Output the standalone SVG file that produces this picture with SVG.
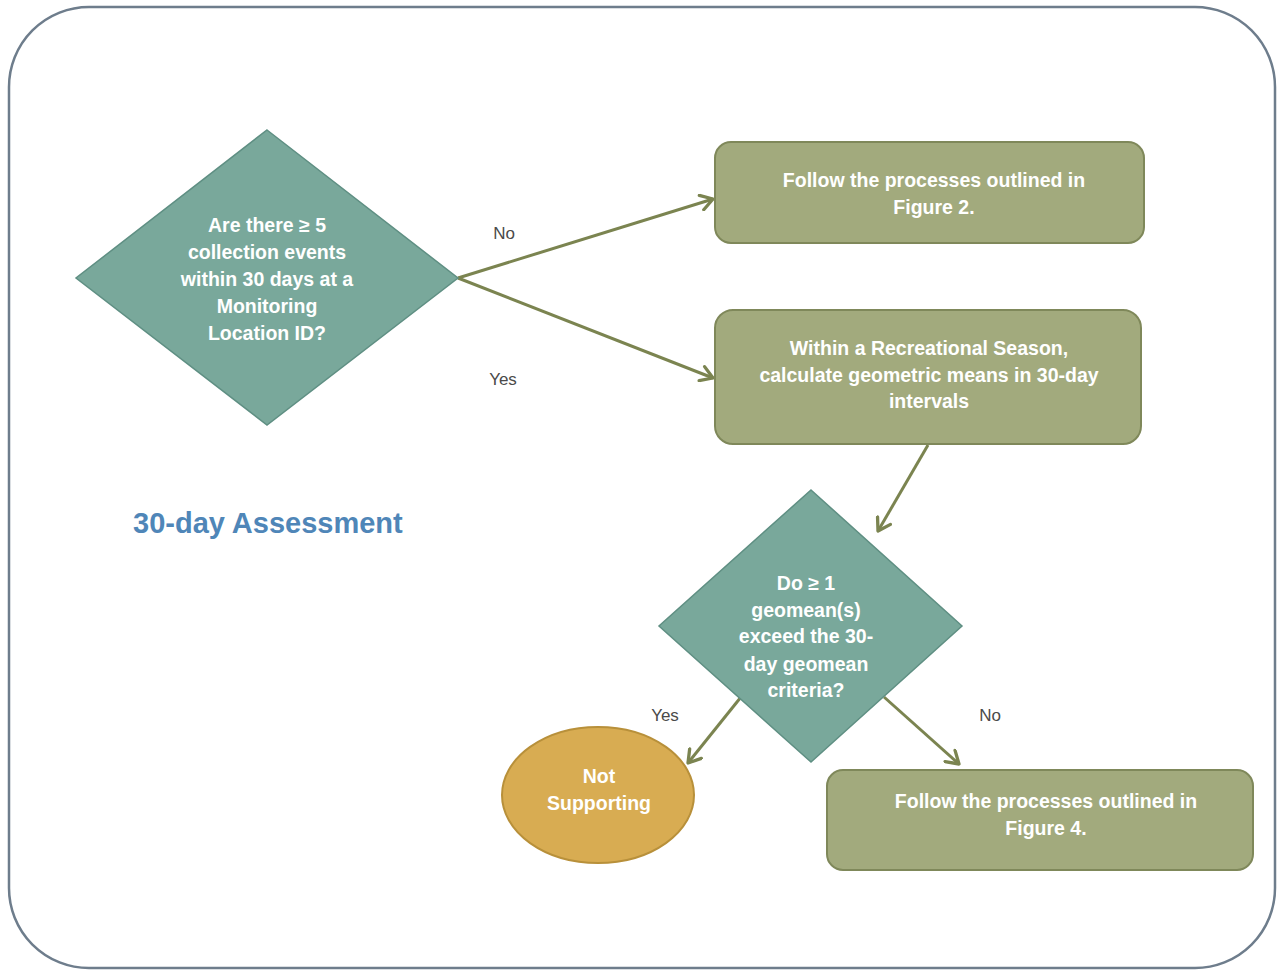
<svg xmlns="http://www.w3.org/2000/svg" width="1278" height="971" viewBox="0 0 1278 971">
  <style>
    .frame { fill: #ffffff; stroke: #6e7d8c; stroke-width: 2.5; }
    .decision { fill: #79a89b; stroke: #5f8f83; stroke-width: 1.5; }
    .process { fill: #a2aa7d; stroke: #7f885a; stroke-width: 2; }
    .terminal { fill: #d8ac52; stroke: #b8903a; stroke-width: 2; }
    .node-text { font-family: "Liberation Sans", Arial, sans-serif; font-weight: bold; font-size: 19.5px; fill: #ffffff; text-anchor: middle; }
    .edge { stroke: #7b8450; stroke-width: 3; fill: none; marker-end: url(#chevron); }
    .edge-label { font-family: "Liberation Sans", Arial, sans-serif; font-size: 17px; fill: #4a4a4a; text-anchor: middle; }
    .title { font-family: "Liberation Sans", Arial, sans-serif; font-weight: bold; font-size: 29px; fill: #4f86b8; }
  </style>
  <defs>
    <marker id="chevron" viewBox="0 0 12 12" refX="10" refY="6" markerWidth="6" markerHeight="6" orient="auto" markerUnits="strokeWidth">
      <path d="M2,1 L10,6 L2,11" fill="none" stroke="#7b8450" stroke-width="2.2" stroke-linecap="round" stroke-linejoin="round"/>
    </marker>
  </defs>

  <rect class="frame" x="9" y="7" width="1266" height="961" rx="80" ry="80"/>

  <text class="title" x="133" y="533">30-day Assessment</text>

  <g id="connectors">
    <line class="edge" x1="458" y1="278" x2="713" y2="199"/>
    <line class="edge" x1="458" y1="278" x2="713" y2="378"/>
    <line class="edge" x1="928" y1="445" x2="878" y2="531"/>
    <line class="edge" x1="741" y1="697" x2="688" y2="763"/>
    <line class="edge" x1="884" y1="697" x2="959" y2="764"/>
    <text class="edge-label" x="504" y="239">No</text>
    <text class="edge-label" x="503" y="385">Yes</text>
    <text class="edge-label" x="665" y="721">Yes</text>
    <text class="edge-label" x="990" y="721">No</text>
  </g>

  <g id="q-collection">
    <polygon class="decision" points="267,130 458,278 267,425 76,278"/>
    <text class="node-text" x="267" y="232">Are there ≥ 5</text>
    <text class="node-text" x="267" y="259">collection events</text>
    <text class="node-text" x="267" y="286">within 30 days at a</text>
    <text class="node-text" x="267" y="313">Monitoring</text>
    <text class="node-text" x="267" y="340">Location ID?</text>
  </g>

  <g id="figure2">
    <rect class="process" x="715" y="142" width="429" height="101" rx="16" ry="16"/>
    <text class="node-text" x="934" y="187">Follow the processes outlined in</text>
    <text class="node-text" x="934" y="214">Figure 2.</text>
  </g>

  <g id="geomeans">
    <rect class="process" x="715" y="310" width="426" height="134" rx="18" ry="18"/>
    <text class="node-text" x="929" y="355">Within a Recreational  Season,</text>
    <text class="node-text" x="929" y="382">calculate  geometric means in 30-day</text>
    <text class="node-text" x="929" y="408">intervals</text>
  </g>

  <g id="q-exceed">
    <polygon class="decision" points="811,490 962,626 811,762 659,626"/>
    <text class="node-text" x="806" y="590">Do ≥ 1</text>
    <text class="node-text" x="806" y="617">geomean(s)</text>
    <text class="node-text" x="806" y="643">exceed the 30-</text>
    <text class="node-text" x="806" y="671">day geomean</text>
    <text class="node-text" x="806" y="697">criteria?</text>
  </g>

  <g id="not-supporting">
    <ellipse class="terminal" cx="598" cy="795" rx="96" ry="68"/>
    <text class="node-text" x="599" y="783">Not</text>
    <text class="node-text" x="599" y="810">Supporting</text>
  </g>

  <g id="figure4">
    <rect class="process" x="827" y="770" width="426" height="100" rx="16" ry="16"/>
    <text class="node-text" x="1046" y="808">Follow the processes outlined in</text>
    <text class="node-text" x="1046" y="835">Figure 4.</text>
  </g>
</svg>
